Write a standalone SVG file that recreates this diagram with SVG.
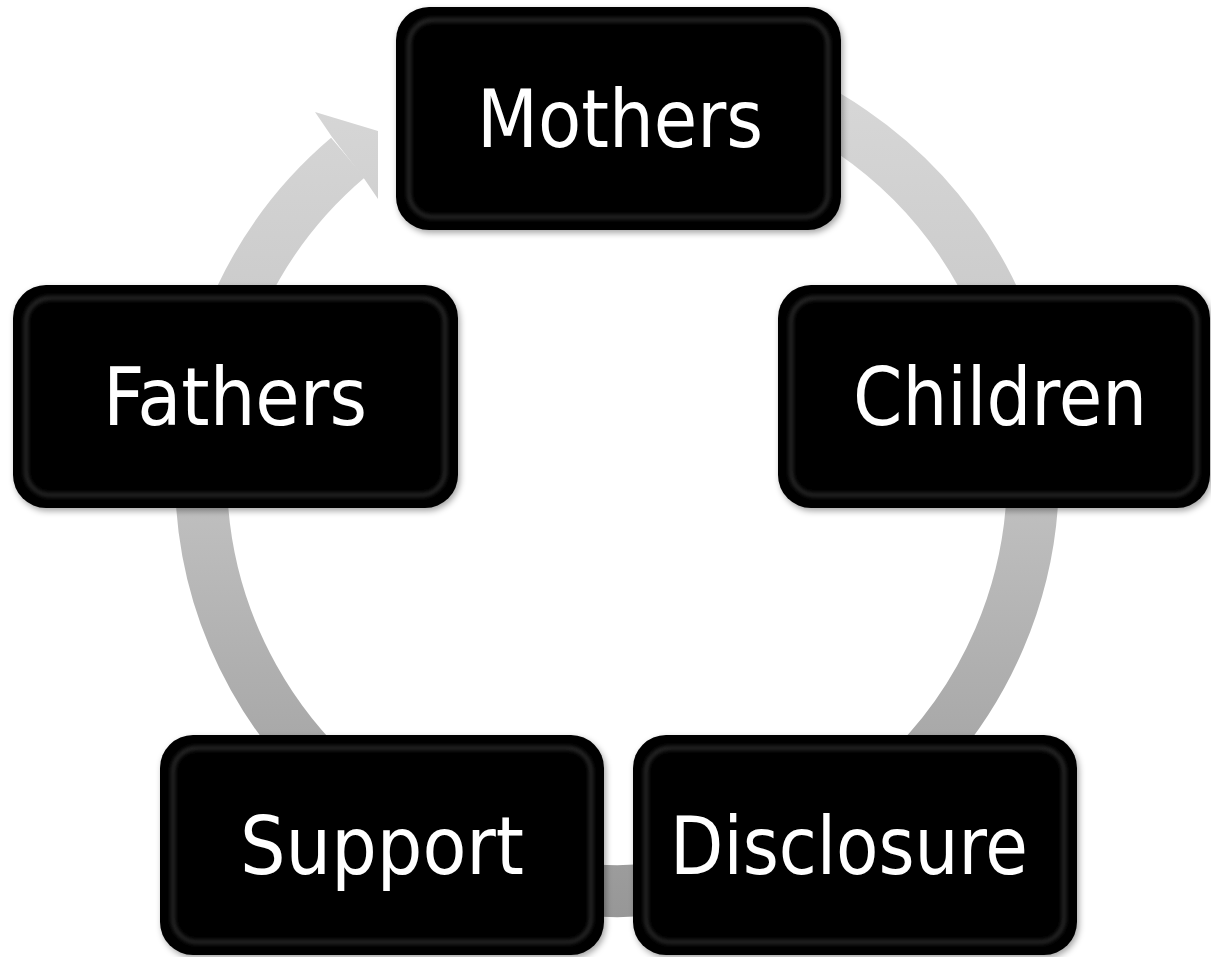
<svg xmlns="http://www.w3.org/2000/svg" width="1211" height="957" viewBox="0 0 1211 957">
<style>
.box{fill:#000;}
.rim{fill:none;stroke:#3a3a3a;stroke-width:3;filter:url(#soft);}
.lbl{fill:#fff;font-family:"DejaVu Sans Condensed","DejaVu Sans",sans-serif;font-size:80px;text-anchor:middle;}
</style>
<defs>
<linearGradient id="ringGrad" gradientUnits="userSpaceOnUse" x1="0" y1="33" x2="0" y2="917">
<stop offset="0" stop-color="#dadada"/>
<stop offset="0.5" stop-color="#c2c2c2"/>
<stop offset="1" stop-color="#979797"/>
</linearGradient>
<filter id="shadow" x="-10%" y="-10%" width="120%" height="125%">
<feDropShadow dx="2" dy="3" stdDeviation="3" flood-color="#000" flood-opacity="0.35"/>
</filter>
<filter id="soft" x="-5%" y="-5%" width="110%" height="110%">
<feGaussianBlur stdDeviation="2"/>
</filter>
</defs>
<rect width="1211" height="957" fill="#fff"/>
<g id="connectors">
<path d="M 689.2 65.3 A 416 416 0 1 1 347.9 157.7" fill="none" stroke="url(#ringGrad)" stroke-width="52"/>
<polygon points="332,137 315,112 378,131 378,199 363,177" fill="url(#ringGrad)"/>
</g>
<g id="node-mothers">
<rect class="box" x="396" y="7" width="445" height="223" rx="33" filter="url(#shadow)"/>
<rect class="rim" x="409" y="20" width="419" height="197" rx="24"/>
<text class="lbl" x="620" y="147" textLength="286" lengthAdjust="spacingAndGlyphs">Mothers</text>
</g>
<g id="node-children">
<rect class="box" x="778" y="285" width="432" height="223" rx="33" filter="url(#shadow)"/>
<rect class="rim" x="791" y="298" width="406" height="197" rx="24"/>
<text class="lbl" x="1000" y="425" textLength="294" lengthAdjust="spacingAndGlyphs">Children</text>
</g>
<g id="node-disclosure">
<rect class="box" x="633" y="735" width="444" height="220" rx="33" filter="url(#shadow)"/>
<rect class="rim" x="646" y="748" width="418" height="194" rx="24"/>
<text class="lbl" x="849" y="874" textLength="358" lengthAdjust="spacingAndGlyphs">Disclosure</text>
</g>
<g id="node-support">
<rect class="box" x="160" y="735" width="444" height="220" rx="33" filter="url(#shadow)"/>
<rect class="rim" x="173" y="748" width="418" height="194" rx="24"/>
<text class="lbl" x="382" y="874" textLength="284" lengthAdjust="spacingAndGlyphs">Support</text>
</g>
<g id="node-fathers">
<rect class="box" x="13" y="285" width="445" height="223" rx="33" filter="url(#shadow)"/>
<rect class="rim" x="26" y="298" width="419" height="197" rx="24"/>
<text class="lbl" x="235" y="425" textLength="264" lengthAdjust="spacingAndGlyphs">Fathers</text>
</g>
</svg>
